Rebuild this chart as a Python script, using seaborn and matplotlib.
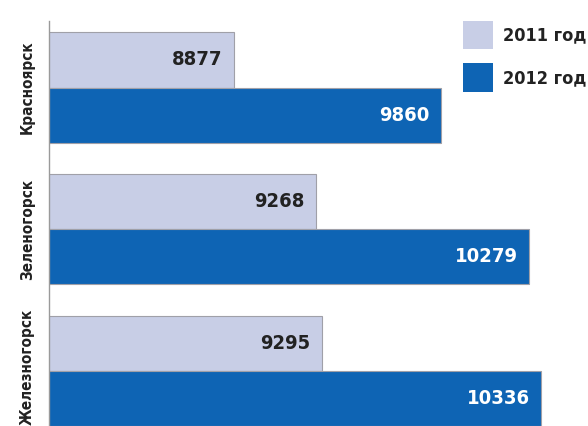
import pandas as pd
import seaborn as sns
import matplotlib.pyplot as plt
from matplotlib.patches import Patch
from matplotlib.transforms import ScaledTranslation

# ===============================
# DATA
# ===============================
cities = ["Красноярск", "Зеленогорск", "Железногорск"]
years = ["2011 год", "2012 год"]
values_2011 = [8877, 9268, 9295]
values_2012 = [9860, 10279, 10336]

df = pd.DataFrame({
    "city": cities * 2,
    "year": [years[0]] * 3 + [years[1]] * 3,
    "value": values_2011 + values_2012,
})

light = "#c8cee6"
dark = "#0e64b4"
palette = {years[0]: light, years[1]: dark}

# ===============================
# PLOT
# ===============================
sns.set_style("white")
plt.rcParams["font.family"] = ["DejaVu Sans"]
plt.rcParams["font.stretch"] = "condensed"

fig = plt.figure(figsize=(5.88, 4.26), dpi=100)
ax = fig.add_axes([49 / 588, 0.0, 1 - 49 / 588, 1 - 21 / 426])

sns.barplot(data=df, x="value", y="city", hue="year", palette=palette,
            saturation=1, orient="h", width=0.78, gap=0, linewidth=0.8,
            edgecolor="#a0a0a8", legend=False, ax=ax)

ax.set_xlim(8000, 10559)
ax.set_ylim(2.39, -0.47)

# value labels inside the bars
for cont, col in zip(ax.containers, ["#222222", "white"]):
    labels = ax.bar_label(cont, fmt="%d", padding=-8, fontsize=14.5,
                          fontweight="bold", fontstretch="condensed", color=col)
    for t in labels:
        t.set_ha("right")

# axes cosmetics
for s in ["top", "right", "bottom"]:
    ax.spines[s].set_visible(False)
ax.spines["left"].set_color("#9a9a9a")
ax.spines["left"].set_linewidth(1.0)
ax.set_xticks([])
ax.set_xlabel("")
ax.set_ylabel("")
ax.set_yticks([0.5, 1.5], minor=True)
ax.tick_params(axis="y", which="major", length=0, pad=10)
ax.tick_params(axis="y", which="minor", length=5, color="#9a9a9a", width=1)
for t in ax.get_yticklabels():
    t.set_rotation(90)
    t.set_va("center")
    t.set_fontsize(11)
    t.set_fontweight("bold")
    t.set_fontstretch("condensed")
    t.set_color("#222222")
# last label sits a bit higher so it stays inside the figure
last = ax.get_yticklabels()[-1]
last.set_transform(last.get_transform() + ScaledTranslation(0, 3 / 72, fig.dpi_scale_trans))

# legend
handles = [Patch(facecolor=palette[y], edgecolor="none") for y in years]
leg = fig.legend(handles, years, loc="upper right", bbox_to_anchor=(1.025, 0.99),
                 frameon=False, handlelength=1.67, handleheight=2.05,
                 labelspacing=0.8, handletextpad=0.55,
                 prop={"weight": "bold", "size": 13, "stretch": "condensed"})
for t in leg.get_texts():
    t.set_color("#222222")

fig.savefig("out.png", dpi=100)
